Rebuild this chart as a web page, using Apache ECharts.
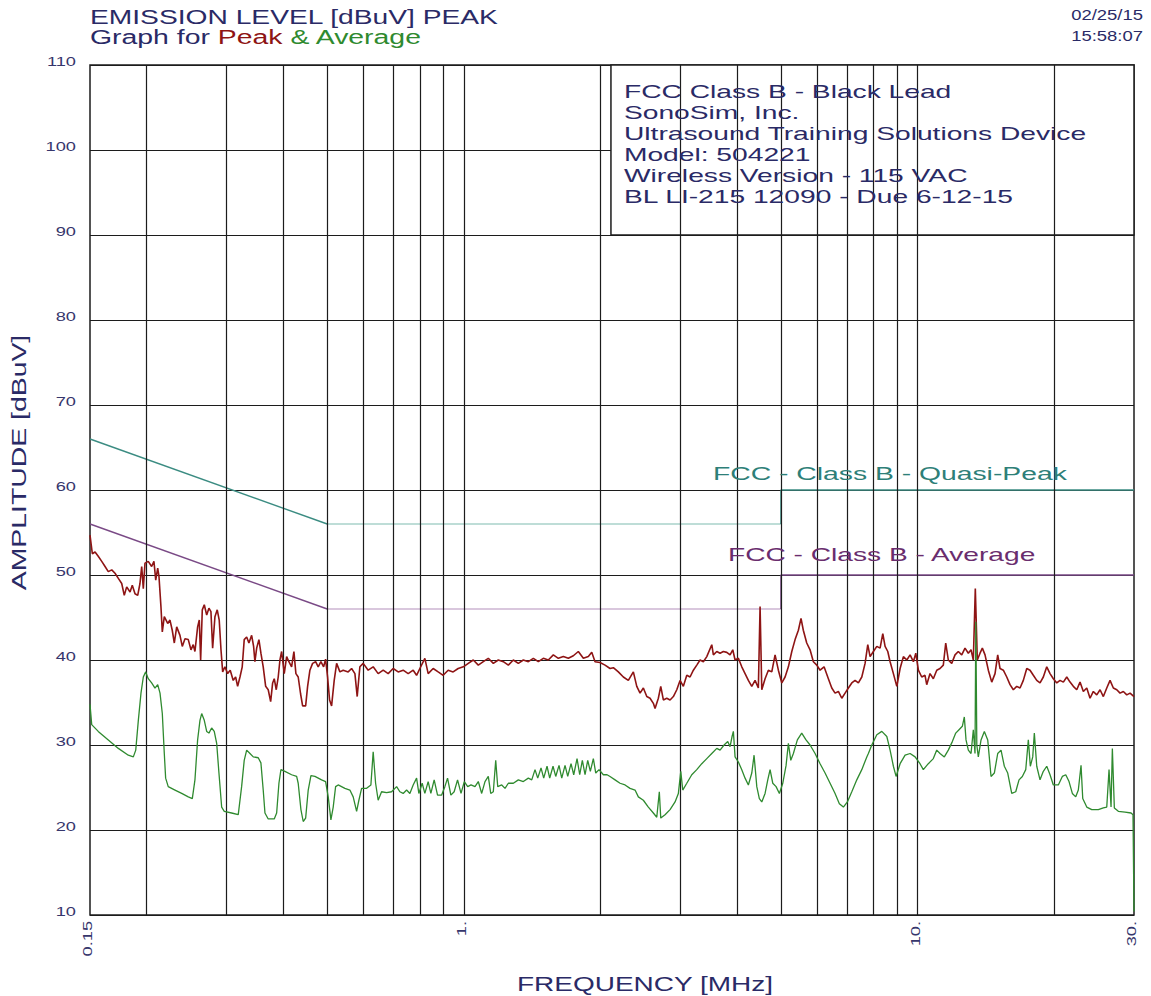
<!DOCTYPE html>
<html>
<head>
<meta charset="utf-8">
<script src="https://cdn.jsdelivr.net/npm/echarts@6/dist/echarts.min.js"></script>
<style>
html,body{margin:0;padding:0;background:#ffffff;}
#c{width:1151px;height:996px;}
</style>
</head>
<body>
<div id="c"></div>
<script>
// ---------------- DATA ----------------
const titleLine1 = 'EMISSION LEVEL [dBuV] PEAK';
const dateText = '02/25/15';
const timeText = '15:58:07';
const xAxisName = 'FREQUENCY [MHz]';
const yAxisName = 'AMPLITUDE [dBuV]';
const infoLines = [
  'FCC Class B - Black Lead',
  'SonoSim, Inc.',
  'Ultrasound Training Solutions Device',
  'Model: 504221',
  'Wireless Version - 115 VAC',
  'BL LI-215 12090 - Due 6-12-15'
];
const qpLabel = 'FCC - Class B - Quasi-Peak';
const avLabel = 'FCC - Class B - Average';

const yTicks = [10, 20, 30, 40, 50, 60, 70, 80, 90, 100, 110];
const xLabelFreqs = [0.15, 1, 10, 30];
const xLabelTexts = ['0.15', '1.', '10.', '30.'];
const vGridFreqs = [0.2, 0.3, 0.4, 0.5, 0.6, 0.7, 0.8, 0.9, 1, 2, 3, 4, 5, 6, 7, 8, 9, 10, 20];

// limit lines (MHz, dBuV)
const qpLimitFreq  = [0.15, 0.5, 5, 5, 30];
const qpLimitLevel = [66, 56, 56, 60, 60];
const avLimitFreq  = [0.15, 0.5, 5, 5, 30];
const avLimitLevel = [56, 46, 46, 50, 50];

// peak trace [MHz, dBuV]
const peakPoints = [
[0.15,54.7],[0.1518,52.5],[0.1539,52.7],[0.1564,52.2],[0.1592,51.6],[0.1619,51.0],[0.1646,50.4],[0.1675,50.6],[0.1703,50.2],[0.1732,49.6],
[0.1762,49.0],[0.1785,47.6],[0.1807,48.6],[0.1838,48.0],[0.1859,48.8],[0.1885,47.8],[0.1911,47.6],[0.1933,49.0],[0.1950,51.0],[0.1966,48.4],
[0.1983,51.4],[0.2016,51.6],[0.2051,51.0],[0.2075,51.6],[0.2094,49.4],[0.2115,50.8],[0.2129,49.8],[0.2150,46.3],[0.2165,43.3],[0.2187,45.1],
[0.2225,44.3],[0.2251,44.7],[0.2277,43.5],[0.2301,42.0],[0.2329,43.9],[0.2368,42.9],[0.2396,41.6],[0.2429,42.5],[0.2470,42.4],[0.2504,41.2],
[0.2533,41.8],[0.2555,41.0],[0.2590,43.9],[0.2612,44.7],[0.2630,40.0],[0.2652,45.9],[0.2679,46.5],[0.2712,45.3],[0.2743,46.1],[0.2771,45.7],
[0.2795,41.4],[0.2828,45.1],[0.2861,45.9],[0.2890,44.7],[0.2916,41.2],[0.2941,38.6],[0.2975,39.2],[0.3016,38.4],[0.3056,38.8],[0.3103,37.6],
[0.3141,38.0],[0.3173,36.9],[0.3211,38.0],[0.3248,39.2],[0.3281,42.4],[0.3322,42.7],[0.3360,42.0],[0.3407,42.9],[0.3441,41.6],[0.3464,39.8],
[0.3495,41.4],[0.3535,42.4],[0.3571,40.8],[0.3613,39.2],[0.3658,36.9],[0.3706,36.5],[0.3752,35.1],[0.3790,37.3],[0.3821,37.8],[0.3860,36.5],
[0.3899,38.0],[0.3933,40.0],[0.3967,41.0],[0.4020,38.4],[0.4069,40.4],[0.4116,39.8],[0.4173,39.2],[0.4222,41.0],[0.4265,38.4],[0.4315,38.0],
[0.4368,36.0],[0.4413,34.6],[0.4481,34.6],[0.4526,36.9],[0.4579,38.8],[0.4642,39.6],[0.4714,39.8],[0.4776,39.2],[0.4842,39.8],[0.4909,39.2],
[0.4959,40.1],[0.5009,38.0],[0.5060,35.3],[0.5112,34.6],[0.5180,37.6],[0.5244,39.6],[0.5332,38.6],[0.5422,38.8],[0.5561,38.6],
[0.5658,39.0],[0.5754,38.4],[0.5821,35.7],[0.5901,39.2],[0.6001,39.6],[0.6155,38.8],[0.6313,39.2],[0.6475,38.4],[0.6642,38.8],[0.6812,38.4],
[0.6987,39.0],[0.7167,38.6],[0.7351,38.8],[0.7540,38.4],[0.7734,38.8],[0.7869,38.2],[0.8001,39.0],[0.8206,40.2],[0.8345,38.4],[0.8559,39.0],
[0.8779,38.6],[0.9005,38.2],[0.9236,38.8],[0.9473,38.6],[0.9717,39.0],[0.9975,39.2],[1.0230,39.6],[1.0493,40.0],[1.0763,39.4],[1.1039,39.8],
[1.1323,40.2],[1.1615,39.6],[1.1913,40.0],[1.2220,39.8],[1.2534,39.4],[1.2857,40.0],[1.3187,39.6],[1.3526,40.0],[1.3873,39.8],[1.4231,40.2],
[1.4596,39.8],[1.4971,40.2],[1.5355,40.0],[1.5751,40.6],[1.6155,40.2],[1.6571,40.4],[1.6997,40.2],[1.7434,40.5],[1.7881,41.0],[1.8342,40.2],
[1.8813,40.4],[1.9141,40.9],[1.9464,39.8],[1.996,39.7],[2.0477,39.4],[2.1004,39.0],[2.1359,39.1],[2.1907,38.6],[2.2470,38.0],[2.3047,37.6],
[2.3641,38.6],[2.4055,36.9],[2.4459,36.1],[2.4872,36.7],[2.5308,35.7],[2.5732,35.5],[2.6167,34.9],[2.6393,34.3],[2.6839,35.5],[2.7169,36.9],
[2.7530,35.3],[2.8011,35.5],[2.8482,35.3],[2.8963,35.7],[2.9470,36.5],[2.9965,37.6],[3.0471,36.9],[3.1005,38.2],[3.1525,38.0],[3.2058,38.8],
[3.2619,39.4],[3.3167,40.0],[3.3728,39.8],[3.4318,40.4],[3.5198,41.8],[3.5484,40.6],[3.6105,41.0],[3.6711,40.8],[3.7331,41.0],[3.7985,40.9],
[3.8622,40.6],[3.9155,41.2],[3.9615,40.0],[4.0283,40.2],[4.0987,39.2],[4.1677,38.4],[4.2380,37.6],[4.3121,36.9],[4.3848,37.6],[4.4587,36.7],
[4.4975,46.3],[4.5366,36.5],[4.6131,37.8],[4.6909,38.8],[4.7729,38.6],[4.8533,40.6],[4.9352,38.8],[5.0214,37.3],[5.1060,38.0],[5.1922,39.2],
[5.2829,41.0],[5.3719,42.4],[5.4625,43.5],[5.5362,44.9],[5.6012,43.5],[5.6992,42.0],[5.7966,41.2],[5.8946,39.8],[5.9977,39.4],[6.0984,38.8],
[6.2234,39.2],[6.3606,37.8],[6.4718,36.7],[6.5809,36.1],[6.6919,36.3],[6.8087,35.5],[6.9235,36.1],[7.0403,36.7],[7.1633,37.3],[7.2840,37.6],
[7.4069,37.3],[7.5362,38.0],[7.6632,39.6],[7.7686,41.8],[7.8605,40.4],[7.9933,41.0],[8.1333,41.6],[8.2697,41.4],[8.3838,43.1],[8.4822,41.6],
[8.5988,41.0],[8.7004,39.8],[8.8474,38.4],[9.0023,36.9],[9.1534,39.0],[9.3081,40.4],[9.4710,40.0],[9.6298,40.6],[9.7925,39.8],[9.9129,40.8],
[10.044,38.8],[10.215,38.0],[10.387,38.2],[10.478,37.1],[10.655,38.4],[10.835,37.8],[11.025,38.8],[11.209,39.0],[11.398,39.4],[11.539,42.0],
[11.691,40.0],[11.896,39.6],[12.096,40.6],[12.300,41.0],[12.515,40.6],[12.726,41.4],[12.941,40.8],[13.120,41.2],[13.274,40.0],[13.408,48.4],
[13.545,40.0],[13.733,40.8],[13.895,41.4],[14.086,40.6],[14.324,38.8],[14.574,37.4],[14.819,38.4],[15.023,40.6],[15.200,39.0],[15.457,38.8],
[15.727,38.0],[15.991,37.1],[16.261,36.5],[16.546,36.9],[16.824,36.7],[17.108,37.6],[17.408,39.0],[17.700,38.8],[17.999,38.2],[18.314,37.6],
[18.621,37.3],[18.936,38.0],[19.267,39.2],[19.591,38.4],[19.922,37.8],[20.271,37.3],[20.611,37.6],[20.959,37.4],[21.326,38.0],[21.684,37.4],
[22.050,36.9],[22.436,36.5],[22.813,37.4],[23.199,36.3],[23.605,36.7],[24.001,35.5],[24.407,36.3],[24.834,35.9],[25.251,36.5],[25.678,35.7],
[26.127,36.7],[26.566,37.6],[27.015,36.7],[27.488,36.5],[27.949,36.1],[28.421,36.3],[28.919,35.9],[29.404,36.1],[30,35.7]
];

// average trace [MHz, dBuV]
const avgPoints = [
[0.15,34.8],[0.1513,32.4],[0.1564,31.6],[0.1646,30.6],[0.1732,29.6],[0.1822,28.8],[0.1869,28.6],[0.1892,29.4],[0.1917,32.9],[0.1943,36.1],
[0.1966,38.0],[0.1990,38.6],[0.2016,37.8],[0.2051,37.3],[0.2086,36.7],[0.2115,37.1],[0.2140,36.1],[0.2165,33.7],[0.2187,29.0],[0.2202,26.1],
[0.2231,25.1],[0.2309,24.7],[0.2389,24.3],[0.2470,23.9],[0.2521,23.7],[0.2555,25.9],[0.2590,30.6],[0.2621,32.9],[0.2644,33.7],[0.2679,32.9],
[0.2712,31.6],[0.2743,31.4],[0.2781,32.0],[0.2818,31.6],[0.2853,30.2],[0.2886,26.7],[0.2926,22.7],[0.2965,22.2],[0.3078,22.0],[0.3183,21.8],
[0.3238,25.1],[0.3281,28.2],[0.3322,29.4],[0.3378,29.0],[0.3435,28.6],[0.3523,28.5],[0.3571,27.9],[0.3613,24.7],[0.3645,22.0],[0.3706,21.3],
[0.3821,21.3],[0.3868,22.0],[0.3913,25.5],[0.3953,27.1],[0.4034,26.9],[0.4173,26.5],[0.4281,26.3],[0.4315,25.5],[0.4375,22.4],[0.4426,21.0],
[0.4481,21.4],[0.4540,24.7],[0.4603,26.4],[0.4697,26.3],[0.4859,25.9],[0.4959,25.7],[0.5025,23.9],[0.5094,21.2],[0.5154,22.7],[0.5217,25.1],
[0.5286,25.3],[0.5469,24.9],[0.5609,24.7],[0.5704,23.9],[0.5804,22.2],[0.5871,23.5],[0.5953,24.9],[0.6106,24.9],[0.6240,25.3],[0.6313,29.2],
[0.6391,25.5],[0.6475,23.5],[0.6588,24.5],[0.6758,24.4],[0.6931,24.5],[0.7110,25.1],[0.7229,24.5],[0.7351,24.3],[0.7480,24.7],[0.7605,24.3],
[0.7734,25.3],[0.7869,26.1],[0.7960,24.3],[0.8095,25.5],[0.8206,24.3],[0.8345,25.7],[0.8460,24.3],[0.8603,25.9],[0.8752,24.1],[0.8932,24.1],
[0.9083,25.1],[0.9208,26.1],[0.9364,24.1],[0.9522,24.5],[0.9687,25.9],[0.9859,24.3],[1.0025,25.7],[1.0199,25.1],[1.0372,25.3],[1.0584,25.1],
[1.0763,25.7],[1.0950,24.3],[1.1135,25.7],[1.1323,26.3],[1.1463,24.3],[1.1615,24.5],[1.1758,28.2],[1.1877,25.1],[1.2122,25.3],[1.2326,24.9],
[1.2534,25.5],[1.2857,25.5],[1.3187,25.9],[1.3526,25.7],[1.3873,26.1],[1.4116,25.9],[1.4354,27.1],[1.4551,26.1],[1.4797,27.3],[1.5000,26.1],
[1.5255,27.5],[1.5464,26.1],[1.5726,27.5],[1.5944,26.3],[1.6212,27.6],[1.6438,26.1],[1.6715,27.6],[1.6945,26.3],[1.7231,27.8],[1.7468,26.5],
[1.7765,28.4],[1.8008,26.5],[1.8250,28.2],[1.8501,26.5],[1.8755,28.2],[1.9005,26.9],[1.9297,28.4],[1.9534,26.7],[1.9862,27.1],[2.0301,26.5],
[2.0687,26.5],[2.1004,26.3],[2.1544,25.9],[2.2097,25.5],[2.2665,25.3],[2.3248,24.9],[2.3845,24.7],[2.4248,23.9],[2.4872,23.5],[2.5511,22.7],
[2.6167,22.0],[2.6625,21.5],[2.6972,24.5],[2.7169,21.4],[2.7768,21.8],[2.8482,22.4],[2.9214,23.3],[2.9707,24.3],[3.0073,26.9],[3.0378,24.7],
[3.1005,25.5],[3.1799,26.5],[3.2619,27.1],[3.3456,27.8],[3.4318,28.4],[3.5198,29.0],[3.6105,29.6],[3.6711,29.4],[3.7464,30.0],[3.8172,30.4],
[3.8622,29.8],[3.9016,31.0],[3.9275,31.6],[3.9615,28.6],[4.0283,28.0],[4.0987,27.1],[4.1677,26.1],[4.2380,25.3],[4.3121,26.7],[4.3625,28.8],
[4.4232,25.1],[4.4810,23.7],[4.5366,23.3],[4.6131,24.3],[4.6765,25.9],[4.7317,27.1],[4.7970,25.5],[4.8779,25.1],[4.9607,24.3],[5.0468,25.5],
[5.1319,27.6],[5.1922,30.2],[5.2562,28.2],[5.3258,29.0],[5.4347,30.6],[5.5560,31.4],[5.6783,30.6],[5.7966,30.0],[5.9456,29.0],[6.0984,27.8],
[6.2551,26.7],[6.4160,25.5],[6.5809,24.3],[6.7253,23.1],[6.8641,22.7],[7.0045,23.3],[7.1633,24.5],[7.3479,25.9],[7.5362,27.1],[7.7305,28.6],
[7.7925,29.0],[7.9289,30.0],[8.1333,31.2],[8.3416,31.6],[8.5567,31.0],[8.7004,29.4],[8.8474,27.5],[8.9693,26.3],[9.1534,27.8],[9.3886,28.8],
[9.6298,29.0],[9.8773,28.6],[10.127,27.8],[10.298,27.1],[10.563,27.8],[10.835,28.4],[11.025,29.4],[11.209,29.0],[11.457,28.6],[11.691,29.4],
[11.932,30.4],[12.140,31.4],[12.344,31.8],[12.553,32.2],[12.681,33.3],[12.790,30.6],[12.941,29.4],[13.120,29.0],[13.274,31.8],[13.388,29.0],
[13.443,44.5],[13.511,30.0],[13.614,28.6],[13.803,30.6],[14.037,31.6],[14.280,30.6],[14.522,26.3],[14.767,26.7],[15.023,29.0],[15.278,29.4],
[15.536,27.5],[15.805,26.7],[16.130,24.3],[16.461,24.5],[16.738,25.9],[17.023,26.3],[17.319,27.1],[17.547,30.6],[17.727,27.5],[17.944,28.6],
[18.091,31.4],[18.314,27.5],[18.621,25.9],[18.936,26.9],[19.267,27.5],[19.591,26.5],[19.922,25.3],[20.433,25.3],[20.854,26.3],[21.217,26.5],
[21.574,25.7],[21.940,24.3],[22.322,23.9],[22.616,24.7],[22.929,27.6],[23.128,23.7],[23.605,22.7],[24.210,22.4],[25.033,22.4],[25.678,22.6],
[26.127,22.7],[26.430,27.1],[26.701,22.7],[26.879,29.6],[27.153,22.6],[27.708,22.2],[28.667,22.1],[29.554,22.0],[29.85,21.8],[30,10.4]
];

// ---------------- STYLE / LAYOUT ----------------
const NAVY = '#2a2a66';
const TICKNAVY = '#36366c';
const RED = '#8e1414';
const GREEN = '#2f8a2f';
const QP_DARK = '#3b8c82', QP_PALE = '#a9d2ca';
const AV_DARK = '#7a4a86', AV_PALE = '#cdb4d2';
const GRIDC = '#1c1c1c';
const FONT = '"Liberation Sans", Arial, Helvetica, sans-serif';
const infoBoxFrom = 2.11;   // left edge of the info panel (MHz)
const infoBoxLow = 90;      // bottom edge of the info panel (dBuV)

function limitSeg(freqs, levels, a, b, color) {
  const d = [];
  for (let i = a; i <= b; i++) d.push([freqs[i], levels[i]]);
  return {type: 'line', data: d, symbol: 'none', showSymbol: false, silent: true, z: 4,
          lineStyle: {color: color, width: 1.4}, itemStyle: {color: color}, animation: false};
}

const option = {
  animation: false,
  backgroundColor: '#ffffff',
  grid: {left: 90, right: 17, top: 65, bottom: 81, show: true, borderColor: GRIDC, borderWidth: 1.5, backgroundColor: '#ffffff'},
  xAxis: {type: 'log', logBase: 10, min: 0.15, max: 30,
          axisLine: {show: false}, axisTick: {show: false}, axisLabel: {show: false}, splitLine: {show: false}},
  yAxis: {type: 'value', min: 10, max: 110, interval: 10,
          axisLine: {show: false}, axisTick: {show: false}, axisLabel: {show: false},
          splitLine: {show: true, lineStyle: {color: GRIDC, width: 1.2}}},
  series: [
    {type: 'line', data: [], z: 1, silent: true,
     markLine: {silent: true, symbol: ['none', 'none'], label: {show: false}, animation: false,
                emphasis: {disabled: true},
                lineStyle: {color: GRIDC, width: 1.2, type: 'solid'},
                data: vGridFreqs.map(f => ({xAxis: f}))}},
    {type: 'line', data: [], z: 3, silent: true,
     markArea: {silent: true, animation: false, label: {show: false}, emphasis: {disabled: true},
                itemStyle: {color: '#ffffff', borderColor: GRIDC, borderWidth: 1.5},
                data: [[{xAxis: infoBoxFrom, yAxis: infoBoxLow}, {xAxis: 30, yAxis: 110}]]}},
    limitSeg(qpLimitFreq, qpLimitLevel, 0, 1, QP_DARK),
    limitSeg(qpLimitFreq, qpLimitLevel, 1, 2, QP_PALE),
    limitSeg(qpLimitFreq, qpLimitLevel, 2, 4, QP_DARK),
    limitSeg(avLimitFreq, avLimitLevel, 0, 1, AV_DARK),
    limitSeg(avLimitFreq, avLimitLevel, 1, 2, AV_PALE),
    limitSeg(avLimitFreq, avLimitLevel, 2, 4, AV_DARK),
    {name: 'Peak', type: 'line', data: peakPoints, symbol: 'none', showSymbol: false, z: 5, silent: true,
     lineStyle: {color: RED, width: 1.6}, itemStyle: {color: RED}},
    {name: 'Average', type: 'line', data: avgPoints, symbol: 'none', showSymbol: false, z: 6, silent: true,
     lineStyle: {color: GREEN, width: 1.3}, itemStyle: {color: GREEN}}
  ]
};

const chart = echarts.init(document.getElementById('c'), null, {renderer: 'svg', width: 1151, height: 996});
chart.setOption(option);

// ---------------- TEXT (real text, horizontally widened like the original typeface) ----------------
function txt(x, y, text, o) {
  o = o || {};
  const size = o.size || 14;
  const st = {
    text: text, fill: o.fill || NAVY, fontSize: size, fontFamily: FONT,
    align: o.align || 'left', textAlign: o.align || 'left',
    verticalAlign: 'middle', textVerticalAlign: 'middle'
  };
  if (o.rich) st.rich = o.rich;
  return {type: 'text', x: x, y: y, rotation: o.rot || 0, scaleX: o.sx || 1, scaleY: 1,
          silent: true, z: 100, style: st};
}

const gx = v => chart.convertToPixel({xAxisIndex: 0}, v);
const gy = v => chart.convertToPixel({yAxisIndex: 0}, v);
const plotLeft = gx(0.15), plotRight = gx(30), plotTop = gy(110), plotBottom = gy(10);

const graphics = [];
// titles
graphics.push(txt(plotLeft, 16.7, titleLine1, {size: 20, sx: 1.41}));
const rs = (c) => ({fill: c, color: c, fontSize: 20, fontFamily: FONT});
graphics.push(txt(plotLeft, 37.3, '{n|Graph for }{p|Peak} {g|& Average}',
  {size: 20, sx: 1.42, rich: {n: rs(NAVY), p: rs(RED), g: rs(GREEN)}}));
graphics.push(txt(plotRight + 9, 15.5, dateText, {size: 15, sx: 1.23, align: 'right'}));
graphics.push(txt(plotRight + 9, 36, timeText, {size: 15, sx: 1.23, align: 'right'}));
// info panel
const boxL = gx(infoBoxFrom);
infoLines.forEach((s, i) => graphics.push(txt(boxL + 13, 92 + 21 * i, s, {size: 18, sx: 1.567})));
// limit labels
graphics.push(txt(713, 473.3, qpLabel, {size: 18.5, sx: 1.53, fill: '#2e7f78'}));
graphics.push(txt(728, 554.7, avLabel, {size: 18.5, sx: 1.52, fill: '#6a2d6e'}));
// y tick labels
yTicks.forEach(v => graphics.push(txt(plotLeft - 14, gy(v) - 3.7, String(v), {size: 13.5, sx: 1.35, align: 'right', fill: TICKNAVY})));
// x tick labels (rotated)
xLabelFreqs.forEach((f, i) => graphics.push(txt(gx(f) - 3, plotBottom + 6, xLabelTexts[i],
  {size: 13.5, sx: 1.35, align: 'right', rot: Math.PI / 2, fill: TICKNAVY})));
// axis names
graphics.push(txt(18.8, 462.5, yAxisName, {size: 20, sx: 1.42, align: 'center', rot: Math.PI / 2}));
graphics.push(txt((plotLeft + plotRight) / 2 + 33, 984.5, xAxisName, {size: 20, sx: 1.40, align: 'center'}));

chart.setOption({graphic: graphics});
</script>
</body>
</html>
